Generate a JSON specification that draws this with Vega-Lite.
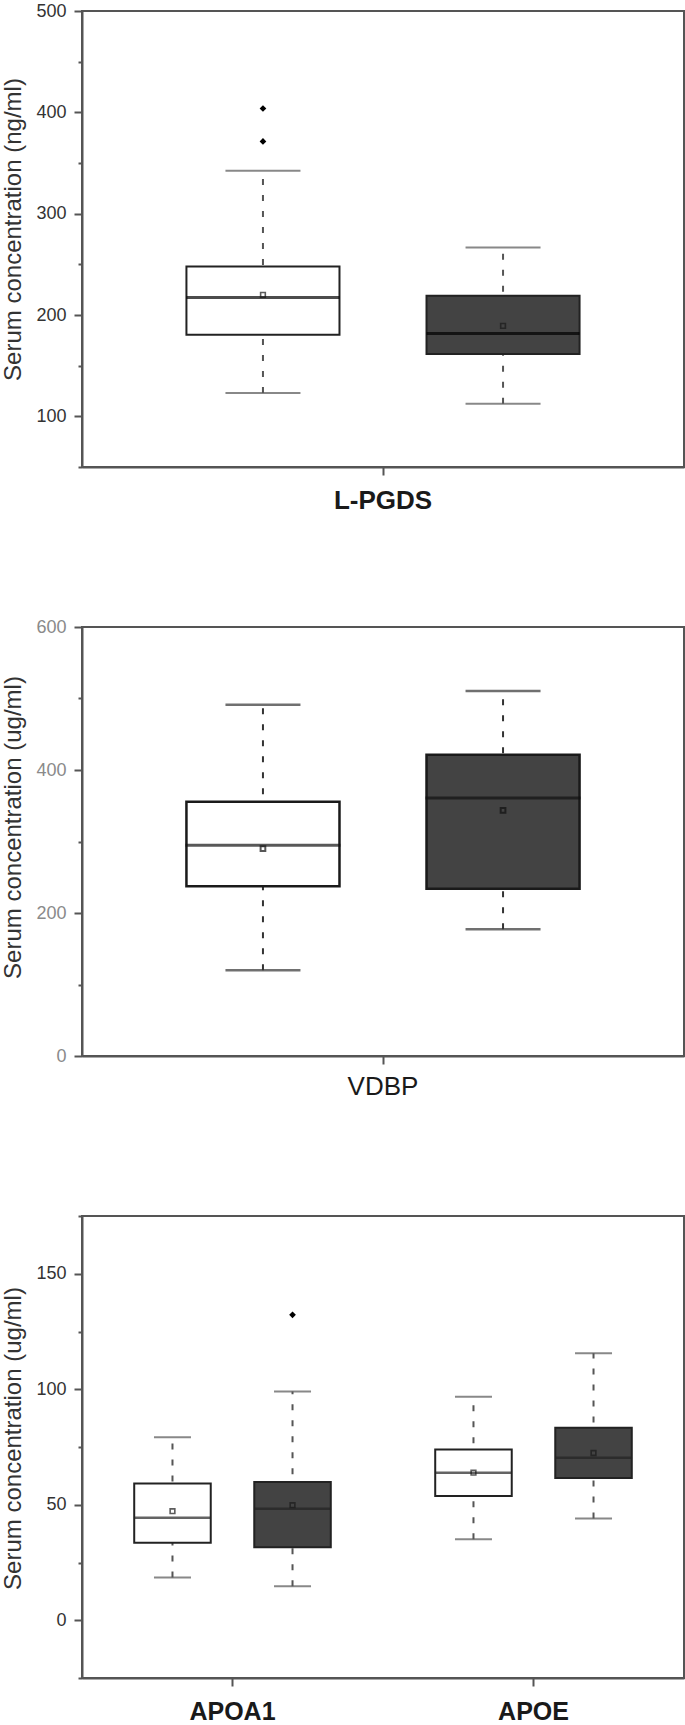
{
  "$schema": "https://vega.github.io/schema/vega-lite/v6.json",
  "background": "white",
  "padding": {"left": 0, "top": 1, "right": 2, "bottom": 0},
  "bounds": "flush",
  "spacing": 160,
  "resolve": {"scale": {"xOffset": "independent", "x": "independent", "y": "independent"}},
  "config": {
    "font": "Liberation Sans",
    "view": {"stroke": "#555555", "strokeWidth": 2},
    "axis": {
      "domainColor": "#555555",
      "domainWidth": 2,
      "tickColor": "#555555",
      "tickWidth": 2,
      "grid": false,
      "labelFont": "Liberation Sans",
      "titleFont": "Liberation Sans"
    }
  },
  "datasets": {
    "lpgds": [
      {"protein": "L-PGDS", "group": "Control", "min": 123, "q1": 180.5, "median": 217.2, "q3": 247.8, "max": 342.4, "mean": 219.9},
      {"protein": "L-PGDS", "group": "Patient", "min": 112.5, "q1": 161.4, "median": 181.8, "q3": 218.9, "max": 266.5, "mean": 189.3}
    ],
    "lpgds_out": [
      {"protein": "L-PGDS", "group": "Control", "value": 403.8},
      {"protein": "L-PGDS", "group": "Control", "value": 371.3}
    ],
    "vdbp": [
      {"protein": "VDBP", "group": "Control", "min": 119.8, "q1": 237.3, "median": 294.6, "q3": 355.7, "max": 491.4, "mean": 290},
      {"protein": "VDBP", "group": "Patient", "min": 177.2, "q1": 234, "median": 360.8, "q3": 421.4, "max": 510.5, "mean": 343.6}
    ],
    "apo": [
      {"protein": "APOA1", "group": "Control", "min": 18.5, "q1": 33.5, "median": 44.4, "q3": 59.2, "max": 79.2, "mean": 47.2},
      {"protein": "APOA1", "group": "Patient", "min": 14.7, "q1": 31.6, "median": 48.3, "q3": 59.9, "max": 99, "mean": 49.8},
      {"protein": "APOE", "group": "Control", "min": 35.1, "q1": 53.8, "median": 63.9, "q3": 73.9, "max": 96.7, "mean": 63.9},
      {"protein": "APOE", "group": "Patient", "min": 44, "q1": 61.6, "median": 70.3, "q3": 83.3, "max": 115.6, "mean": 72.4}
    ],
    "apo_out": [
      {"protein": "APOA1", "group": "Patient", "value": 132.2}
    ]
  },
  "vconcat": [
    {
      "width": 602,
      "height": 456,
      "data": {"name": "lpgds"},
      "encoding": {
        "x": {"field": "protein", "type": "nominal", "scale": {"paddingInner": 0, "paddingOuter": 0},
          "axis": {"title": null, "labelAngle": 0, "labelFontSize": 26, "labelFontWeight": "bold", "labelColor": "#1a1a1a", "tickSize": 8, "labelPadding": 12}},
        "xOffset": {"field": "group", "type": "nominal", "scale": {"paddingInner": 0.3625, "paddingOuter": 0.435}}
      },
      "layer": [
        {
          "mark": {"type": "rule", "strokeDash": [6, 10], "strokeWidth": 2, "color": "#555555"},
          "encoding": {
            "y": {"field": "min", "type": "quantitative", "scale": {"domain": [50, 500], "nice": false, "zero": false},
              "axis": {"title": "Serum concentration (ng/ml)", "values": [50, 100, 150, 200, 250, 300, 350, 400, 450, 500],
                "labelExpr": "datum.value % 100 === 0 ? datum.label : ''", "labelOverlap": false,
                "tickSize": {"condition": {"test": "datum.value % 100 === 0", "value": 8}, "value": 4},
                "labelFontSize": 18, "labelColor": "#333333", "labelPadding": 8,
                "titleFontSize": 24, "titleFontWeight": "normal", "titleColor": "#333333", "titlePadding": 10, "titleY": 218}},
            "y2": {"field": "max"}
          }
        },
        {"mark": {"type": "tick", "size": 75, "thickness": 2, "color": "#555555"}, "encoding": {"y": {"field": "max", "type": "quantitative"}}},
        {"mark": {"type": "tick", "size": 75, "thickness": 2, "color": "#555555"}, "encoding": {"y": {"field": "min", "type": "quantitative"}}},
        {
          "mark": {"type": "bar", "stroke": "#222222", "strokeWidth": 2},
          "encoding": {
            "y": {"field": "q1", "type": "quantitative"},
            "y2": {"field": "q3"},
            "fill": {"field": "group", "type": "nominal", "scale": {"domain": ["Control", "Patient"], "range": ["#ffffff", "#434343"]}, "legend": null}
          }
        },
        {"mark": {"type": "tick", "size": 153, "thickness": 3, "color": "#000000"}, "encoding": {"y": {"field": "median", "type": "quantitative"}}},
        {"mark": {"type": "point", "shape": "square", "size": 22, "filled": false, "strokeWidth": 1.6, "color": "#1a1a1a"}, "encoding": {"y": {"field": "mean", "type": "quantitative"}}},
        {"data": {"name": "lpgds_out"}, "mark": {"type": "point", "shape": "diamond", "size": 45, "filled": true, "opacity": 1, "color": "#000000"}, "encoding": {"y": {"field": "value", "type": "quantitative"}}}
      ]
    },
    {
      "width": 602,
      "height": 429,
      "data": {"name": "vdbp"},
      "encoding": {
        "x": {"field": "protein", "type": "nominal", "scale": {"paddingInner": 0, "paddingOuter": 0},
          "axis": {"title": null, "labelAngle": 0, "labelFontSize": 26, "labelFontWeight": "normal", "labelColor": "#1a1a1a", "tickSize": 8, "labelPadding": 9}},
        "xOffset": {"field": "group", "type": "nominal", "scale": {"paddingInner": 0.3625, "paddingOuter": 0.435}}
      },
      "layer": [
        {
          "mark": {"type": "rule", "strokeDash": [6, 10], "strokeWidth": 2, "color": "#333333"},
          "encoding": {
            "y": {"field": "min", "type": "quantitative", "scale": {"domain": [0, 600], "nice": false, "zero": false},
              "axis": {"title": "Serum concentration (ug/ml)", "values": [0, 100, 200, 300, 400, 500, 600],
                "labelExpr": "datum.value % 200 === 0 ? datum.label : ''", "labelOverlap": false,
                "tickSize": {"condition": {"test": "datum.value % 200 === 0", "value": 8}, "value": 4},
                "labelFontSize": 18, "labelColor": "#8a8a8a", "labelPadding": 8,
                "titleFontSize": 24, "titleFontWeight": "normal", "titleColor": "#333333", "titlePadding": 10, "titleY": 200}},
            "y2": {"field": "max"}
          }
        },
        {"mark": {"type": "tick", "size": 75, "thickness": 2.5, "color": "#333333"}, "encoding": {"y": {"field": "max", "type": "quantitative"}}},
        {"mark": {"type": "tick", "size": 75, "thickness": 2.5, "color": "#333333"}, "encoding": {"y": {"field": "min", "type": "quantitative"}}},
        {
          "mark": {"type": "bar", "stroke": "#1a1a1a", "strokeWidth": 2.5},
          "encoding": {
            "y": {"field": "q1", "type": "quantitative"},
            "y2": {"field": "q3"},
            "fill": {"field": "group", "type": "nominal", "scale": {"domain": ["Control", "Patient"], "range": ["#ffffff", "#434343"]}, "legend": null}
          }
        },
        {"mark": {"type": "tick", "size": 155, "thickness": 3, "color": "#111111"}, "encoding": {"y": {"field": "median", "type": "quantitative"}}},
        {"mark": {"type": "point", "shape": "square", "size": 22, "filled": false, "strokeWidth": 2, "color": "#111111"}, "encoding": {"y": {"field": "mean", "type": "quantitative"}}}
      ]
    },
    {
      "width": 602,
      "height": 462,
      "data": {"name": "apo"},
      "encoding": {
        "x": {"field": "protein", "type": "nominal", "scale": {"paddingInner": 0, "paddingOuter": 0},
          "axis": {"title": null, "labelAngle": 0, "labelFontSize": 25, "labelFontWeight": "bold", "labelColor": "#1a1a1a", "tickSize": 8, "labelPadding": 13}},
        "xOffset": {"field": "group", "type": "nominal", "scale": {"paddingInner": 0.3625, "paddingOuter": 0.435}}
      },
      "layer": [
        {
          "mark": {"type": "rule", "strokeDash": [6, 10], "strokeWidth": 2, "color": "#555555"},
          "encoding": {
            "y": {"field": "min", "type": "quantitative", "scale": {"domain": [-25, 175], "nice": false, "zero": false},
              "axis": {"title": "Serum concentration (ug/ml)", "values": [-25, 0, 25, 50, 75, 100, 125, 150, 175],
                "labelExpr": "datum.value % 50 === 0 ? datum.label : ''", "labelOverlap": false,
                "tickSize": {"condition": {"test": "datum.value % 50 === 0", "value": 8}, "value": 4},
                "labelFontSize": 18, "labelColor": "#333333", "labelPadding": 8,
                "titleFontSize": 24, "titleFontWeight": "normal", "titleColor": "#333333", "titlePadding": 10, "titleY": 222}},
            "y2": {"field": "max"}
          }
        },
        {"mark": {"type": "tick", "size": 37, "thickness": 2, "color": "#555555"}, "encoding": {"y": {"field": "max", "type": "quantitative"}}},
        {"mark": {"type": "tick", "size": 37, "thickness": 2, "color": "#555555"}, "encoding": {"y": {"field": "min", "type": "quantitative"}}},
        {
          "mark": {"type": "bar", "stroke": "#222222", "strokeWidth": 2},
          "encoding": {
            "y": {"field": "q1", "type": "quantitative"},
            "y2": {"field": "q3"},
            "fill": {"field": "group", "type": "nominal", "scale": {"domain": ["Control", "Patient"], "range": ["#ffffff", "#434343"]}, "legend": null}
          }
        },
        {"mark": {"type": "tick", "size": 77, "thickness": 2.5, "color": "#222222"}, "encoding": {"y": {"field": "median", "type": "quantitative"}}},
        {"mark": {"type": "point", "shape": "square", "size": 22, "filled": false, "strokeWidth": 1.6, "color": "#1a1a1a"}, "encoding": {"y": {"field": "mean", "type": "quantitative"}}},
        {"data": {"name": "apo_out"}, "mark": {"type": "point", "shape": "diamond", "size": 45, "filled": true, "opacity": 1, "color": "#000000"}, "encoding": {"y": {"field": "value", "type": "quantitative"}}}
      ]
    }
  ]
}
